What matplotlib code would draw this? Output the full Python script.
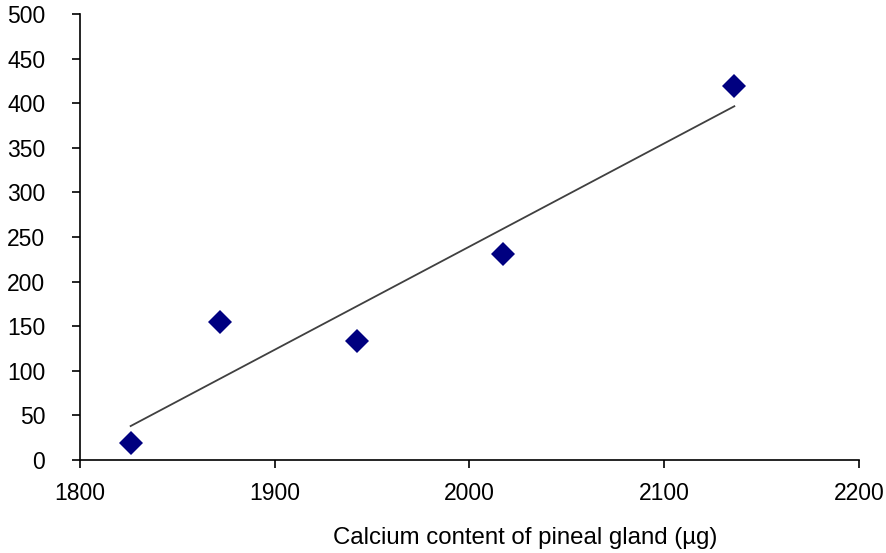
import matplotlib
matplotlib.use('Agg')
import matplotlib.pyplot as plt
import numpy as np

plt.rcParams['font.family'] = ['Liberation Sans', 'DejaVu Sans']

# calcium content (ug) vs. y value
calcium = [1826, 1872, 1942, 2017, 2136]
values = [19, 155, 133, 231, 419]
x_ticks = [1800, 1900, 2000, 2100, 2200]
y_ticks = [0, 50, 100, 150, 200, 250, 300, 350, 400, 450, 500]

fig = plt.figure(figsize=(8.86, 5.53), dpi=100)
ax = fig.add_axes([0.0903, 0.1682, 0.8792, 0.8065])

# linear trend line over the data range
x = np.array(calcium)
y = np.array(values)
k, b = np.polyfit(x, y, 1)
xl = np.array([x.min(), x.max()])
ax.plot(xl, k * xl + b, color='#404040', lw=1.3, zorder=2)

ax.plot(x, y, 'D', color='#000080', markersize=12.5, markeredgewidth=0, zorder=3)

ax.set_xlim(1800, 2200)
ax.set_ylim(0, 500)
ax.set_xticks(x_ticks)
ax.set_yticks(y_ticks)

for s in ['top', 'right']:
    ax.spines[s].set_visible(False)
for s in ['left', 'bottom']:
    ax.spines[s].set_linewidth(1.2)

ax.tick_params(axis='y', direction='out', length=6, width=1.2, pad=19, labelsize=16.5)
ax.tick_params(axis='x', direction='out', length=6, width=1.2, pad=10, labelsize=16.5)

ax.set_xlabel('Calcium content of pineal gland (µg)', fontsize=17.3, va='center')
ax.xaxis.set_label_coords(0.571, -0.175)

fig.savefig('out.png', dpi=100)
